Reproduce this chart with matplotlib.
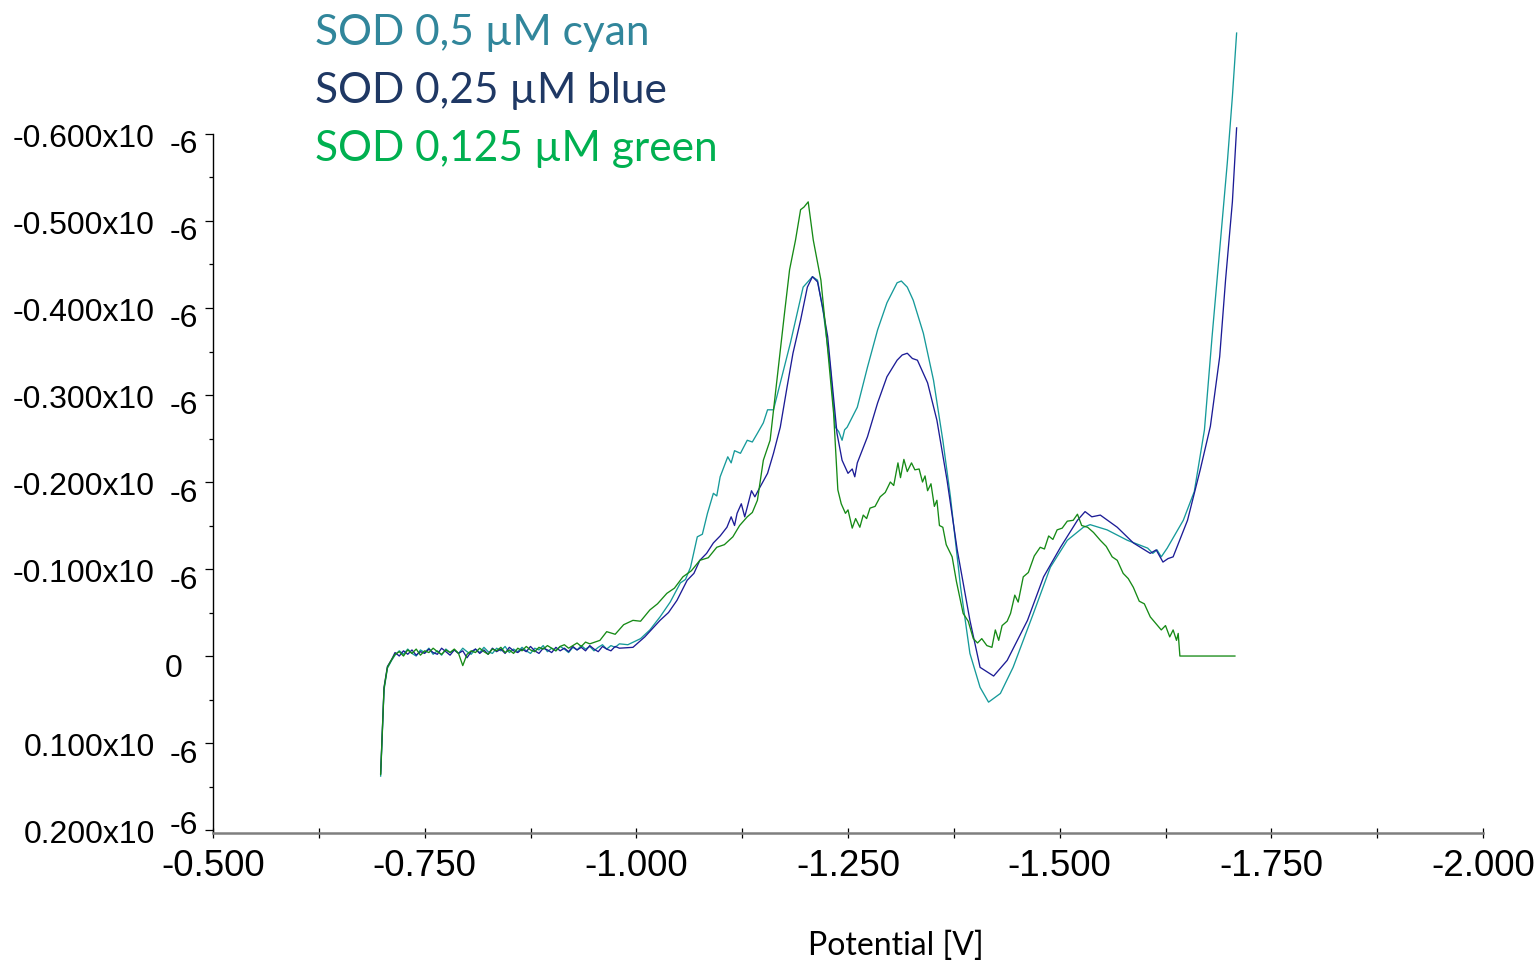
import matplotlib
matplotlib.use("Agg")
import matplotlib.pyplot as plt
from matplotlib.ticker import FixedLocator

# potentials in V, currents in units of 1e-6 A (reduction current is negative)
start_pot = [-0.698, -0.702, -0.706, -0.711]
flat_pot = [-0.715, -0.72, -0.725, -0.73, -0.735, -0.74, -0.745, -0.75, -0.755, -0.76,
            -0.765, -0.77, -0.775, -0.78, -0.785, -0.79, -0.795, -0.80, -0.805, -0.81,
            -0.815, -0.82, -0.825, -0.83, -0.835, -0.84, -0.845, -0.85, -0.855, -0.86,
            -0.865, -0.87, -0.875, -0.88, -0.885, -0.89, -0.895, -0.90, -0.905, -0.91,
            -0.915, -0.92, -0.925, -0.93, -0.935, -0.94, -0.945, -0.95, -0.955, -0.96,
            -0.965, -0.97, -0.975, -0.98]

# SOD 0.5 uM
cyan_start = [0.138, 0.039, 0.014, 0.005]
cyan_flat = [-0.001, -0.006, -0.002, -0.008, -0.003, 0.000, -0.007, -0.004, -0.009, -0.002,
             -0.006, -0.001, -0.008, -0.004, -0.007, -0.003, -0.009, -0.005, -0.002, -0.008,
             -0.004, -0.010, -0.005, -0.003, -0.009, -0.006, -0.011, -0.004, -0.008, -0.005,
             -0.010, -0.006, -0.003, -0.009, -0.007, -0.012, -0.005, -0.009, -0.006, -0.011,
             -0.008, -0.004, -0.010, -0.007, -0.012, -0.008, -0.011, -0.006, -0.010, -0.013,
             -0.008, -0.012, -0.010, -0.014]
cyan_pot = [-0.99, -1.005, -1.016, -1.028, -1.040, -1.052, -1.058, -1.064, -1.072, -1.078,
            -1.084, -1.091, -1.095, -1.099, -1.108, -1.112, -1.116, -1.123, -1.131, -1.137,
            -1.143, -1.150, -1.155, -1.162, -1.170, -1.182, -1.190, -1.197, -1.208, -1.214,
            -1.221, -1.229, -1.235, -1.239, -1.243, -1.246, -1.249, -1.261, -1.273, -1.285,
            -1.296, -1.308, -1.313, -1.320, -1.327, -1.339, -1.351, -1.362, -1.371, -1.383,
            -1.394, -1.406, -1.416, -1.430, -1.445, -1.469, -1.489, -1.509, -1.528, -1.536,
            -1.556, -1.580, -1.604, -1.610, -1.615, -1.620, -1.627, -1.646, -1.659, -1.671,
            -1.680, -1.690, -1.698, -1.704, -1.709]
cyan_cur = [-0.013, -0.020, -0.030, -0.045, -0.062, -0.084, -0.088, -0.102, -0.137, -0.140,
            -0.164, -0.187, -0.184, -0.206, -0.229, -0.222, -0.236, -0.233, -0.248, -0.246,
            -0.256, -0.268, -0.283, -0.283, -0.314, -0.360, -0.394, -0.424, -0.436, -0.432,
            -0.394, -0.332, -0.263, -0.258, -0.248, -0.260, -0.263, -0.286, -0.332, -0.375,
            -0.406, -0.429, -0.431, -0.424, -0.409, -0.371, -0.317, -0.248, -0.183, -0.079,
            -0.003, 0.036, 0.053, 0.043, 0.013, -0.049, -0.102, -0.133, -0.148, -0.151,
            -0.145, -0.133, -0.124, -0.118, -0.122, -0.114, -0.124, -0.156, -0.189, -0.260,
            -0.367, -0.478, -0.567, -0.643, -0.716]

# SOD 0.25 uM
blue_start = [0.135, 0.036, 0.012, 0.004]
blue_flat = [-0.004, 0.000, -0.006, -0.002, -0.007, -0.001, -0.005, -0.003, -0.008, -0.004,
             -0.002, -0.009, -0.005, -0.001, -0.007, -0.003, -0.006, 0.002, -0.005, -0.008,
             -0.003, -0.007, -0.002, -0.009, -0.005, -0.008, -0.003, -0.010, -0.006, -0.004,
             -0.008, -0.005, -0.011, -0.006, -0.003, -0.009, -0.007, -0.004, -0.010, -0.006,
             -0.009, -0.005, -0.011, -0.007, -0.010, -0.006, -0.012, -0.008, -0.005, -0.011,
             -0.008, -0.006, -0.011, -0.009]
blue_pot = [-0.996, -1.010, -1.028, -1.038, -1.048, -1.060, -1.068, -1.075, -1.083, -1.091,
            -1.099, -1.107, -1.112, -1.116, -1.119, -1.124, -1.128, -1.131, -1.136, -1.140,
            -1.146, -1.155, -1.162, -1.170, -1.178, -1.185, -1.194, -1.202, -1.208, -1.214,
            -1.220, -1.226, -1.231, -1.237, -1.243, -1.250, -1.255, -1.258, -1.261, -1.273,
            -1.285, -1.296, -1.308, -1.314, -1.320, -1.326, -1.332, -1.344, -1.355, -1.367,
            -1.379, -1.394, -1.406, -1.422, -1.438, -1.462, -1.481, -1.501, -1.521, -1.530,
            -1.538, -1.548, -1.568, -1.587, -1.607, -1.614, -1.622, -1.628, -1.634, -1.651,
            -1.666, -1.678, -1.689, -1.696, -1.704, -1.709]
blue_cur = [-0.010, -0.022, -0.041, -0.050, -0.064, -0.087, -0.095, -0.110, -0.118, -0.130,
            -0.138, -0.148, -0.160, -0.150, -0.164, -0.175, -0.160, -0.171, -0.190, -0.183,
            -0.194, -0.210, -0.233, -0.263, -0.309, -0.348, -0.386, -0.424, -0.436, -0.430,
            -0.401, -0.367, -0.317, -0.256, -0.225, -0.210, -0.215, -0.206, -0.222, -0.252,
            -0.291, -0.321, -0.340, -0.346, -0.348, -0.342, -0.340, -0.314, -0.271, -0.202,
            -0.122, -0.041, 0.013, 0.023, 0.005, -0.041, -0.091, -0.125, -0.156, -0.166,
            -0.160, -0.162, -0.148, -0.130, -0.118, -0.122, -0.108, -0.112, -0.114, -0.156,
            -0.214, -0.264, -0.344, -0.433, -0.522, -0.607]

# SOD 0.125 uM
green_start = [0.136, 0.037, 0.013, 0.004]
green_flat = [-0.002, -0.005, 0.000, -0.007, -0.003, -0.008, -0.001, -0.006, -0.004, -0.009,
              -0.005, -0.002, -0.007, -0.004, -0.008, -0.003, 0.011, -0.002, -0.006, -0.004,
              -0.009, -0.005, -0.002, -0.008, -0.006, -0.010, -0.004, -0.007, -0.003, -0.009,
              -0.006, -0.011, -0.007, -0.005, -0.010, -0.008, -0.012, -0.009, -0.006, -0.011,
              -0.013, -0.009, -0.012, -0.015, -0.011, -0.016, -0.014]
green_pot = [-0.957, -0.965, -0.975, -0.985, -0.996, -1.005, -1.016, -1.025, -1.036, -1.045,
             -1.055, -1.065, -1.075, -1.085, -1.095, -1.104, -1.114, -1.122, -1.131, -1.137,
             -1.143, -1.150, -1.158, -1.166, -1.175, -1.181, -1.188, -1.194, -1.198, -1.203,
             -1.209, -1.218, -1.225, -1.233, -1.238, -1.242, -1.247, -1.250, -1.255, -1.259,
             -1.264, -1.268, -1.272, -1.276, -1.282, -1.288, -1.294, -1.300, -1.304, -1.309,
             -1.312, -1.316, -1.320, -1.325, -1.329, -1.334, -1.338, -1.341, -1.344, -1.348,
             -1.352, -1.355, -1.358, -1.362, -1.366, -1.373, -1.378, -1.386, -1.392, -1.398,
             -1.403, -1.408, -1.414, -1.420, -1.424, -1.428, -1.432, -1.438, -1.442, -1.447,
             -1.451, -1.457, -1.463, -1.470, -1.477, -1.482, -1.487, -1.492, -1.497, -1.503,
             -1.509, -1.516, -1.521, -1.526, -1.533, -1.540, -1.548, -1.555, -1.562, -1.568,
             -1.575, -1.581, -1.587, -1.594, -1.600, -1.607, -1.613, -1.620, -1.625, -1.630,
             -1.634, -1.638, -1.640, -1.642, -1.660, -1.680, -1.707]
green_cur = [-0.018, -0.028, -0.025, -0.036, -0.041, -0.040, -0.053, -0.060, -0.072, -0.078,
             -0.091, -0.098, -0.110, -0.113, -0.125, -0.128, -0.137, -0.150, -0.160, -0.165,
             -0.179, -0.225, -0.248, -0.317, -0.394, -0.444, -0.478, -0.513, -0.516, -0.522,
             -0.478, -0.432, -0.363, -0.279, -0.191, -0.175, -0.164, -0.168, -0.147, -0.158,
             -0.148, -0.162, -0.158, -0.170, -0.172, -0.183, -0.188, -0.200, -0.196, -0.222,
             -0.205, -0.226, -0.212, -0.222, -0.214, -0.215, -0.200, -0.207, -0.190, -0.198,
             -0.172, -0.179, -0.150, -0.148, -0.128, -0.114, -0.086, -0.049, -0.040, -0.020,
             -0.015, -0.020, -0.012, -0.010, -0.030, -0.018, -0.035, -0.040, -0.049, -0.070,
             -0.062, -0.091, -0.096, -0.115, -0.125, -0.123, -0.138, -0.134, -0.145, -0.147,
             -0.155, -0.156, -0.163, -0.150, -0.148, -0.142, -0.133, -0.126, -0.114, -0.110,
             -0.095, -0.089, -0.079, -0.063, -0.060, -0.045, -0.038, -0.030, -0.035, -0.022,
             -0.030, -0.018, -0.026, 0.0, 0.0, 0.0, 0.0]

legend_labels = ["SOD 0,5 \u00b5M cyan", "SOD 0,25 \u00b5M blue", "SOD 0,125 \u00b5M green"]
legend_colors = ["#31869b", "#1f3864", "#00b050"]
line_colors = ["#169a9a", "#1c1c96", "#168a16"]

y_ticks = [-0.6, -0.5, -0.4, -0.3, -0.2, -0.1, 0.0, 0.1, 0.2]
y_minor = [-0.55, -0.45, -0.35, -0.25, -0.15, -0.05, 0.05, 0.15]
x_ticks = [-0.5, -0.75, -1.0, -1.25, -1.5, -1.75, -2.0]
x_minor = [-0.625, -0.875, -1.125, -1.375, -1.625, -1.875]

fig = plt.figure(figsize=(15.39, 9.64), dpi=100)
ax = fig.add_axes([213 / 1539, 131 / 964, 1270 / 1539, 833 / 964])

series = [
    (start_pot + flat_pot + cyan_pot, cyan_start + cyan_flat + cyan_cur),
    (start_pot + flat_pot + blue_pot, blue_start + blue_flat + blue_cur),
    (start_pot + flat_pot[:47] + green_pot, green_start + green_flat + green_cur),
]
for (p, c), col in zip(series, line_colors):
    ax.plot(p, c, color=col, lw=0.95)

ax.set_xlim(-0.5, -2.0)
ax.set_ylim(0.2034, -0.754)

for s in ["top", "right"]:
    ax.spines[s].set_visible(False)
ax.spines["left"].set_bounds(0.2034, -0.6)
ax.spines["left"].set_linewidth(1.0)
ax.spines["bottom"].set_color("#7f7f7f")
ax.spines["bottom"].set_linewidth(1.8)

ax.set_xticks(x_ticks)
ax.set_xticklabels(["{:.3f}".format(v) for v in x_ticks])
ax.xaxis.set_minor_locator(FixedLocator(x_minor))
ax.tick_params(axis="x", which="both", direction="inout", length=7, width=0.9,
               labelsize=26.5, pad=8)
for lab in ax.get_xticklabels():
    lab.set_fontfamily("Liberation Sans")

ax.set_yticks(y_ticks)
ax.set_yticklabels([])
ax.yaxis.set_minor_locator(FixedLocator(y_minor))
ax.tick_params(axis="y", which="major", direction="out", length=6, width=0.9)
ax.tick_params(axis="y", which="minor", direction="out", length=3, width=0.9)

# y tick labels written as "mantissa x10 -6"
ytr = ax.get_yaxis_transform()
for v in y_ticks:
    if v == 0:
        ax.text(-0.0307, 0.015, "0", transform=ytr, ha="center", va="center",
                fontsize=23, family="Liberation Sans")
        continue
    exp_off = -0.005 if v == y_ticks[-1] else 0.0132
    ax.text(-0.0457, v + 0.0052, "{:.3f}x10".format(v), transform=ytr,
            ha="right", va="center", fontsize=23, family="Liberation Sans")
    ax.text(-0.0339, v + exp_off, "-6", transform=ytr, ha="left", va="center",
            fontsize=23, family="Liberation Sans")

for i, (lab, col) in enumerate(zip(legend_labels, legend_colors)):
    fig.text(315 / 1539, 1 - (45 + 58 * i) / 964, lab, color=col, fontsize=30.5,
             family="Lato", ha="left", va="baseline")

fig.text(896 / 1539, 1 - 955 / 964, "Potential [V]", fontsize=23, family="Lato",
         ha="center", va="baseline")

fig.savefig("out.png", dpi=100)
